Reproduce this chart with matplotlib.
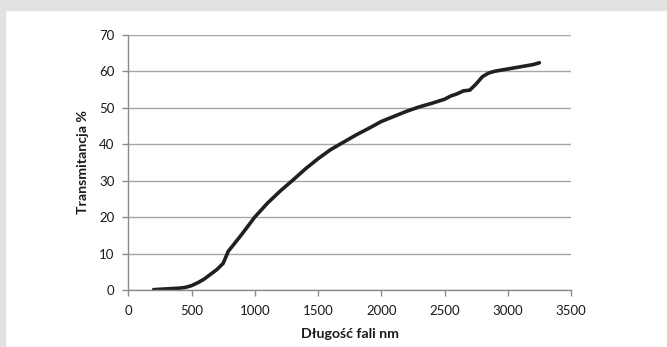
import matplotlib.pyplot as plt
from matplotlib.patches import Rectangle

wavelength = [200, 300, 400, 450, 500, 550, 600, 650, 700, 750, 790, 850, 900, 1000,
              1100, 1200, 1300, 1400, 1500, 1600, 1700, 1800, 1900, 2000, 2100, 2200,
              2300, 2400, 2500, 2550, 2600, 2650, 2700, 2750, 2800, 2850, 2900, 3000,
              3100, 3200, 3250]
transmittance = [0.1, 0.3, 0.5, 0.7, 1.2, 2.0, 3.0, 4.3, 5.6, 7.3, 10.6, 13.2, 15.4, 20.0,
                 23.8, 27.1, 30.1, 33.2, 36.0, 38.5, 40.5, 42.5, 44.3, 46.2, 47.6, 49.0,
                 50.2, 51.2, 52.3, 53.2, 53.8, 54.6, 54.8, 56.5, 58.5, 59.5, 60.0, 60.6,
                 61.2, 61.8, 62.3]

plt.rcParams['font.family'] = ['Lato', 'DejaVu Sans']

W, H = 667, 347
fig = plt.figure(figsize=(W / 100, H / 100), dpi=100)
fig.patch.set_facecolor('white')
border = '#e1e1df'
fig.patches.append(Rectangle((0, 1 - 10 / H), 1, 10 / H, transform=fig.transFigure,
                             color=border, zorder=0))
fig.patches.append(Rectangle((0, 0), 5 / W, 1, transform=fig.transFigure,
                             color=border, zorder=0))

ax = fig.add_axes([128.3 / W, 1 - 290 / H, (571 - 128.3) / W, (290 - 34.7) / H])
ax.plot(wavelength, transmittance, color='#231f20', lw=2.6, solid_capstyle='round')

ax.set_xlim(0, 3500)
ax.set_ylim(0, 70)
ax.set_xticks(range(0, 3501, 500))
ax.set_yticks(range(0, 71, 10))
ax.grid(axis='y', color='#a6a6a6', lw=1)
ax.set_axisbelow(True)
for s in ['top', 'right']:
    ax.spines[s].set_visible(False)
for s in ['left', 'bottom']:
    ax.spines[s].set_color('#8c8c8c')
    ax.spines[s].set_linewidth(1)
ax.tick_params(colors='#8c8c8c', length=4, width=1, labelcolor='#1a1a1a', labelsize=9.5)
ax.tick_params(axis='x', pad=7)
ax.tick_params(axis='y', pad=6)

ax.set_xlabel('Długość fali nm', fontsize=10.2, fontweight='bold', color='#1a1a1a', labelpad=8)
ax.set_ylabel('Transmitancja %', fontsize=10.2, fontweight='bold', color='#1a1a1a', labelpad=7)

fig.savefig('out.png', dpi=100)
